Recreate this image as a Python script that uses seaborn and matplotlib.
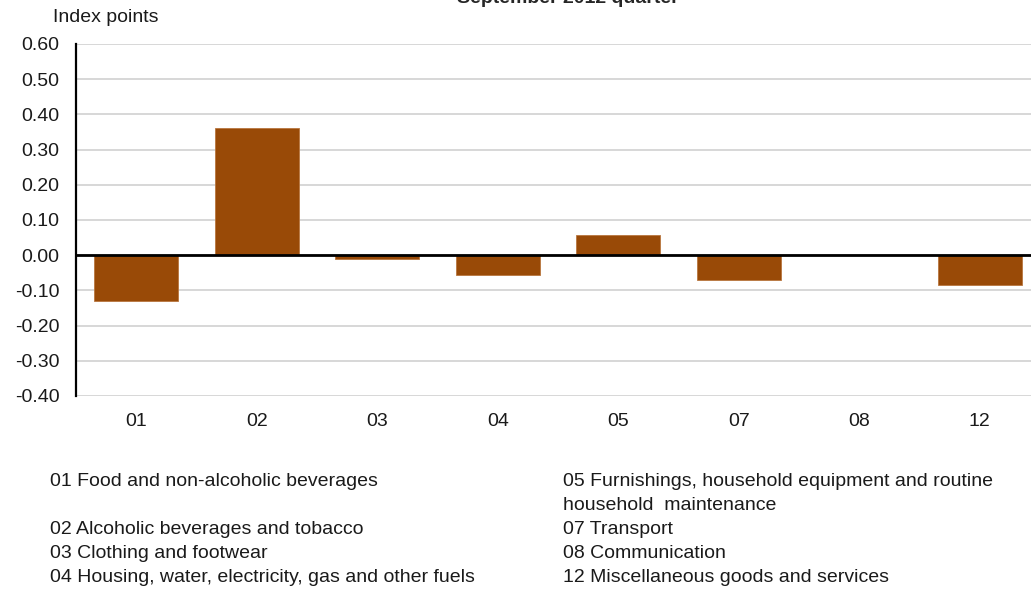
import matplotlib
matplotlib.use("Agg")
import matplotlib.pyplot as plt
import seaborn as sns
import pandas as pd

categories = ["01", "02", "03", "04", "05", "07", "08", "12"]
values = [-0.13, 0.36, -0.01, -0.057, 0.057, -0.071, 0.0, -0.085]
yticks = [-0.40, -0.30, -0.20, -0.10, 0.00, 0.10, 0.20, 0.30, 0.40, 0.50, 0.60]
legend_left = ["01 Food and non-alcoholic beverages", "",
               "02 Alcoholic beverages and tobacco",
               "03 Clothing and footwear",
               "04 Housing, water, electricity, gas and other fuels"]
legend_right = ["05 Furnishings, household equipment and routine",
                "household  maintenance",
                "07 Transport",
                "08 Communication",
                "12 Miscellaneous goods and services"]
title = "September 2012 quarter"
ylabel = "Index points"

sns.set_style("white")
plt.rcParams['font.family'] = ['Liberation Sans', 'DejaVu Sans']

FS = 14
W, H = 1031, 590
fig = plt.figure(figsize=(W / 100, H / 100), dpi=100)
ax = fig.add_axes([76 / W, 1 - 396 / H, (1040 - 76) / W, (396 - 44) / H])

df = pd.DataFrame({"cat": categories, "val": values})
sns.barplot(data=df, x="cat", y="val", color="#994A07", saturation=1,
            width=0.7, edgecolor="#B8763F", linewidth=0.6, ax=ax, zorder=3)

ax.set_ylim(-0.40, 0.60)
ax.set_yticks(yticks)
ax.set_yticklabels([f"{t:.2f}" for t in yticks])
ax.yaxis.grid(True, color="#D4D4D4", linewidth=1.3, zorder=0)
ax.set_axisbelow(True)
ax.axhline(0, color="black", linewidth=2, zorder=4)
for s in ["top", "right", "bottom"]:
    ax.spines[s].set_visible(False)
ax.spines["left"].set_color("black")
ax.spines["left"].set_linewidth(1.6)
ax.spines["left"].set_zorder(5)
ax.tick_params(axis="both", length=0, labelsize=FS, colors="#1a1a1a")
ax.tick_params(axis="y", pad=12)
ax.tick_params(axis="x", pad=12)
ax.set_xlabel("")
ax.set_ylabel("")

fig.text(53 / W, 1 - 18 / H, ylabel, fontsize=FS, va="center", ha="left", color="#1a1a1a")
fig.text(568 / W, 1 - 3 / H, title, fontsize=FS, fontweight="bold", va="baseline", ha="center")

ys = [481, 505, 529, 553, 578]
for t, y in zip(legend_left, ys):
    if t:
        fig.text(50 / W, 1 - y / H, t, fontsize=FS, va="center", ha="left", color="#1a1a1a")
for t, y in zip(legend_right, ys):
    fig.text(563 / W, 1 - y / H, t, fontsize=FS, va="center", ha="left", color="#1a1a1a")

fig.savefig("out.png", dpi=100)
